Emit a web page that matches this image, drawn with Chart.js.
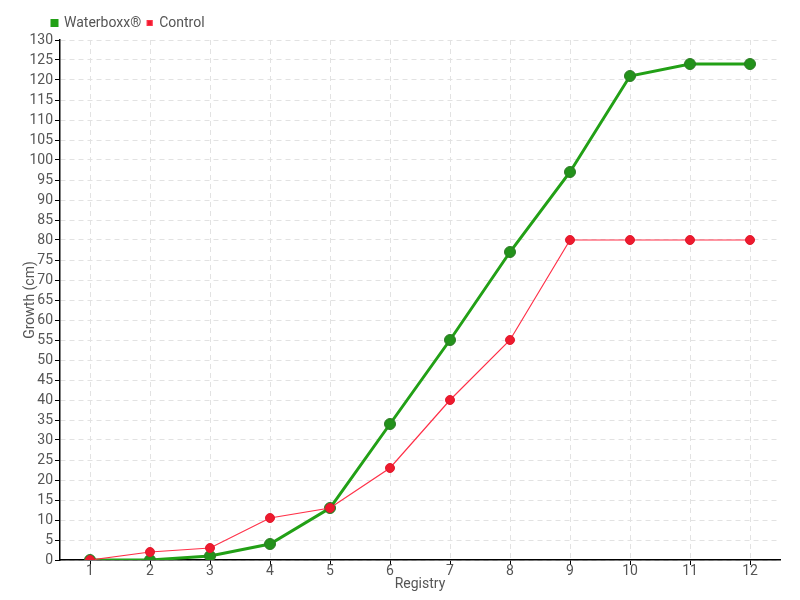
<!DOCTYPE html>
<html>
<head>
<meta charset="utf-8">
<script src="https://cdn.jsdelivr.net/npm/chart.js@4"></script>
<style>
  body { margin: 0; background: #fff; }
  #wrap { width: 800px; height: 600px; }
</style>
</head>
<body>
<div id="wrap"><canvas id="myChart"></canvas></div>
<script>
const registries = ['1', '2', '3', '4', '5', '6', '7', '8', '9', '10', '11', '12'];
const waterboxx = [0, 0, 1, 4, 13, 34, 55, 77, 97, 121, 124, 124];
const control = [0, 2, 3, 10.5, 13, 23, 40, 55, 80, 80, 80, 80];

const fontName = 'Roboto, sans-serif';
const textColor = '#555';
const gridStyle = {
    color: '#e2e2e2',
    tickColor: '#000',
    tickLength: 5
};

// décale la légende pour qu'elle commence au-dessus de l'axe Y
const shiftLegend = {
    id: 'shiftLegend',
    afterLayout(chart) {
        chart.legend.left += 24;
    }
};

var ctx = document.getElementById('myChart').getContext('2d');
const myChart = new Chart(ctx, {
    type: 'line',
    data: {
        labels: registries,
        datasets: [{
            label: 'Waterboxx®',
            data: waterboxx,
            borderColor: '#22a016',
            backgroundColor: '#22a016',
            pointBackgroundColor: '#23921b',
            pointBorderColor: '#2c7a25',
            pointBorderWidth: 1,
            pointRadius: 5.5,
            borderWidth: 3,
            tension: 0,
            order: 1
        }, {
            label: 'Control',
            data: control,
            borderColor: '#ff3048',
            backgroundColor: '#ee1a2e',
            pointBackgroundColor: '#ee1a2e',
            pointBorderColor: '#e0192c',
            pointBorderWidth: 1,
            pointRadius: 4.5,
            borderWidth: 1.2,
            tension: 0,
            order: 0
        }]
    },
    options: {
        responsive: true,
        maintainAspectRatio: false,
        animation: false,
        layout: {
            padding: { left: 22, right: 20, top: 10, bottom: 7 }
        },
        plugins: {
            legend: {
                position: 'top',
                align: 'start',
                labels: {
                    boxWidth: 5,
                    boxHeight: 5,
                    padding: 6,
                    color: textColor,
                    font: { family: fontName, size: 14 },
                    sort: (a, b) => a.datasetIndex - b.datasetIndex
                }
            },
            tooltip: { enabled: false }
        },
        scales: {
            x: {
                offset: true,
                grid: Object.assign({ offset: false }, gridStyle),
                border: { color: '#000', width: 1.5, dash: [5, 4] },
                ticks: {
                    color: textColor,
                    padding: -2,
                    font: { family: fontName, size: 14 }
                },
                title: {
                    display: true,
                    text: 'Registry',
                    color: textColor,
                    padding: 0,
                    font: { family: fontName, size: 14 }
                },
                afterFit: (scale) => { scale.height = 33; }
            },
            y: {
                min: 0,
                max: 130,
                grid: gridStyle,
                border: { color: '#000', width: 1.5, dash: [5, 4] },
                ticks: {
                    stepSize: 5,
                    color: textColor,
                    padding: 2,
                    autoSkip: false,
                    font: { family: fontName, size: 14 }
                },
                title: {
                    display: true,
                    text: 'Growth (cm)',
                    color: textColor,
                    padding: 0,
                    font: { family: fontName, size: 14 }
                },
                afterFit: (scale) => { scale.width = 38; }
            }
        }
    },
    plugins: [shiftLegend]
});
</script>
</body>
</html>
